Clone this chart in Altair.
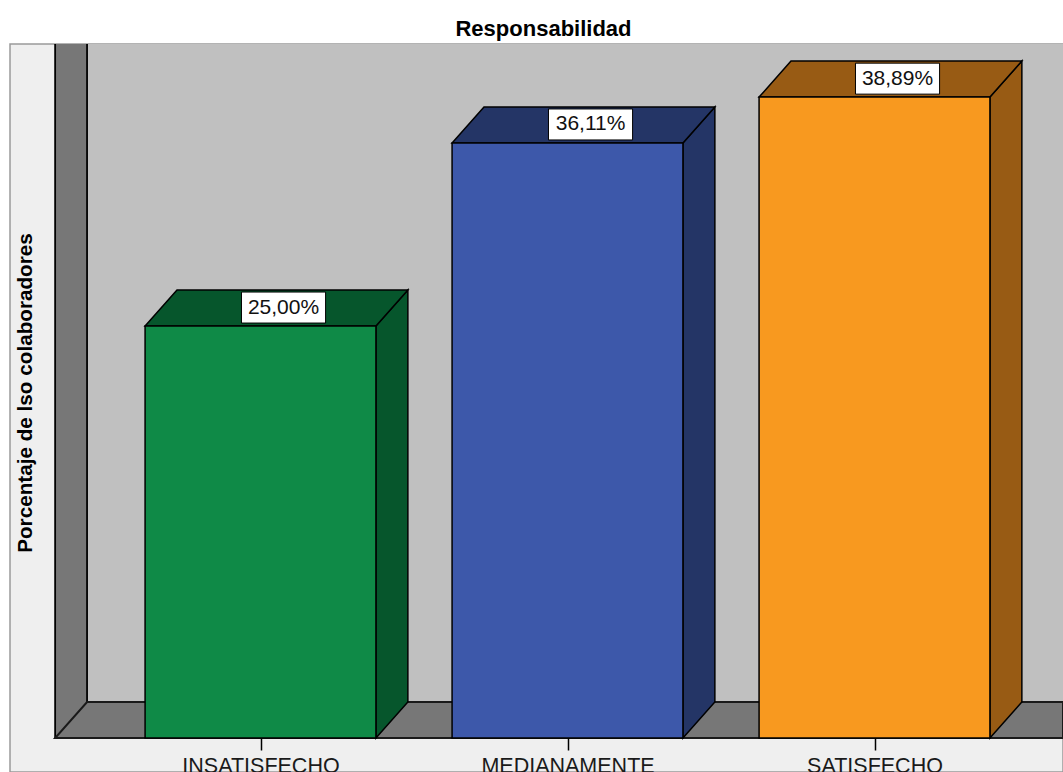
import altair as alt
import pandas as pd

# ---- data ----
categories = ["INSATISFECHO", "MEDIANAMENTE", "SATISFECHO"]
percentages = [25.00, 36.11, 38.89]
front_colors = ["#0f8a47", "#3d58aa", "#f8991f"]
side_colors = ["#06562c", "#243566", "#985b14"]

title_text = "Responsabilidad"
y_title = "Porcentaje de lso colaboradores"

# ---- 3D scene constants (in data units) ----
X_MIN, X_MAX = -0.816, 2.614
Y_MIN, Y_MAX = -2.063, 42.112
DX, DY = 0.104, 2.185
HALF = 0.376
WALL_FRONT = -0.669
WALL_BACK = WALL_FRONT + DX
LBL_OFF = 0.075
LBL_HALF = 0.137

FONT = "Liberation Sans"

xs = alt.Scale(domain=[X_MIN, X_MAX], nice=False, zero=False)
ys = alt.Scale(domain=[Y_MIN, Y_MAX], nice=False, zero=False)

label_expr = "[" + ",".join("'" + c + "'" for c in categories) + "][datum.value]"
x_axis = alt.Axis(values=list(range(len(categories))), labelExpr=label_expr,
                  domain=False, grid=False, ticks=True, tickSize=12,
                  tickColor="black", tickWidth=1.5, labelFont=FONT,
                  labelFontSize=21.5, labelColor="#1a1a1a", labelPadding=5,
                  labelFlush=False, labelOverlap=False, offset=-34,
                  title=None, zindex=1)
y_axis = alt.Axis(title=y_title, labels=False, ticks=False, domain=False,
                  grid=False, titleX=21.5, titleY=348.5, titleAngle=270,
                  titleAlign="center", titleBaseline="alphabetic",
                  titleFont=FONT, titleFontSize=20.7, titleFontWeight="bold",
                  titleColor="black", zindex=1)

def X(f="x"):
    return alt.X(f"{f}:Q", scale=xs, axis=x_axis)

def Y(f="y"):
    return alt.Y(f"{f}:Q", scale=ys, axis=y_axis)

# ---- walls and floor ----
back_df = pd.DataFrame({"x": [WALL_BACK], "x2": [X_MAX], "y": [DY], "y2": [Y_MAX]})
back = alt.Chart(back_df).mark_rect(fill="#c0c0c0").encode(
    x=X(), x2="x2:Q", y=Y(), y2="y2:Q")

left_df = pd.DataFrame({"x": [WALL_FRONT, WALL_BACK], "y": [0, DY],
                        "y2": [Y_MAX, Y_MAX]})
left = alt.Chart(left_df).mark_area(fill="#777777").encode(
    x=X(), y=Y(), y2="y2:Q")

edges_df = pd.DataFrame({"x": [WALL_FRONT, WALL_BACK], "x2": [WALL_FRONT, WALL_BACK],
                         "y": [0, DY], "y2": [Y_MAX, Y_MAX]})
edges = alt.Chart(edges_df).mark_rule(color="black", strokeWidth=1.8).encode(
    x=X(), x2="x2:Q", y=Y(), y2="y2:Q")

floor_df = pd.DataFrame({"x": [WALL_FRONT, WALL_BACK, X_MAX],
                         "y": [0, 0, 0], "y2": [0, DY, DY]})
floor = alt.Chart(floor_df).mark_area(fill="#777777", stroke="#1a1a1a",
                                      strokeWidth=2).encode(
    x=X(), y=Y(), y2="y2:Q")

# ---- bars ----
side_rows, top_rows, front_rows, lab_rows = [], [], [], []
for i, (cat, v) in enumerate(zip(categories, percentages)):
    c = float(i)
    L, R = c - HALF, c + HALF
    side_rows += [
        {"id": cat, "x": R, "y": 0.0, "y2": v, "col": side_colors[i]},
        {"id": cat, "x": R + DX, "y": DY, "y2": v + DY, "col": side_colors[i]},
    ]
    top_rows += [
        {"id": cat, "x": L, "y": v, "y2": v, "col": side_colors[i]},
        {"id": cat, "x": L + DX, "y": v, "y2": v + DY, "col": side_colors[i]},
        {"id": cat, "x": R, "y": v, "y2": v + DY, "col": side_colors[i]},
        {"id": cat, "x": R + DX, "y": v + DY, "y2": v + DY, "col": side_colors[i]},
    ]
    front_rows.append({"id": cat, "x": L, "x2": R, "y": 0.0,
                       "y2": v, "col": front_colors[i]})
    lab_rows.append({"id": cat, "x": c + LBL_OFF - LBL_HALF,
                     "x2": c + LBL_OFF + LBL_HALF, "xc": c + LBL_OFF,
                     "y": v + 0.18, "y2": v + 2.06, "yc": v + 1.12,
                     "text": f"{v:.2f}".replace(".", ",") + "%"})

side = alt.Chart(pd.DataFrame(side_rows)).mark_area(
    stroke="black", strokeWidth=1.5).encode(
    x=X(), y=Y(), y2="y2:Q", detail="id:N",
    fill=alt.Fill("col:N", scale=None))

top = alt.Chart(pd.DataFrame(top_rows)).mark_area(
    stroke="black", strokeWidth=1.5).encode(
    x=X(), y=Y(), y2="y2:Q", detail="id:N",
    fill=alt.Fill("col:N", scale=None))

front = alt.Chart(pd.DataFrame(front_rows)).mark_rect(
    stroke="black", strokeWidth=1.5).encode(
    x=X(), x2="x2:Q", y=Y(), y2="y2:Q",
    fill=alt.Fill("col:N", scale=None))

lab_df = pd.DataFrame(lab_rows)
box = alt.Chart(lab_df).mark_rect(fill="white", stroke="black",
                                  strokeWidth=1).encode(
    x=X(), x2="x2:Q", y=Y(), y2="y2:Q")
txt = alt.Chart(lab_df).mark_text(font=FONT, fontSize=21, color="#111111",
                                  baseline="middle", align="center").encode(
    x=X("xc"), y=Y("yc"), text="text:N")

chart = alt.layer(back, left, edges, floor, side, top, front, box, txt).properties(
    width=1053, height=728,
    padding={"left": 10, "top": 44, "right": 0, "bottom": 0},
    autosize=alt.AutoSizeParams(type="none"),
    background="white",
    title=alt.TitleParams(title_text, font=FONT, fontSize=22,
                          fontWeight="bold", color="black", anchor="middle",
                          frame="group", dx=7, dy=23, offset=8,
                          baseline="alphabetic"),
).configure_view(fill="#efefef", stroke="#9a9a9a", strokeWidth=1.5)

chart.save("out.html", embed_options={"renderer": "svg", "actions": False})
